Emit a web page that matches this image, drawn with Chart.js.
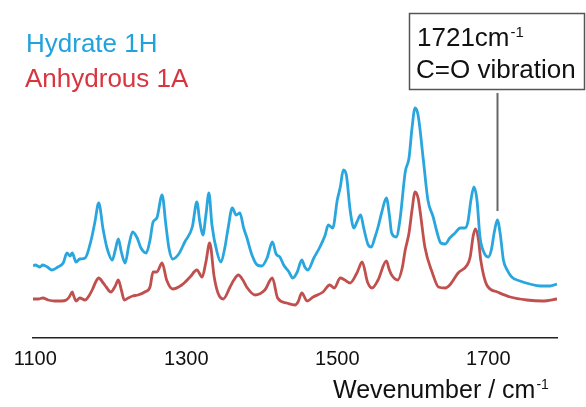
<!DOCTYPE html>
<html>
<head>
<meta charset="utf-8">
<script src="https://cdn.jsdelivr.net/npm/chart.js@4.4.1/dist/chart.umd.min.js"></script>
<style>
  html, body { margin: 0; padding: 0; background: #ffffff; }
  #wrap { position: relative; width: 586px; height: 407px; }
</style>
</head>
<body>
<div id="wrap"><canvas id="c" width="586" height="407"></canvas></div>
<script>
// ---- Data (wavenumber in cm-1, intensity in arbitrary units, offset traces) ----
const seriesNames = ['Hydrate 1H', 'Anhydrous 1A'];
const tickValues = [1100, 1300, 1500, 1700];
const axisTitle = 'Wevenumber / cm';
const annotationLines = ['1721cm', 'C=O vibration'];
const annotatedPeak = 1712;

const hydrateX = [1097,1100,1106,1110,1116,1122,1130,1137,1142,1146,1149,1154,1159,1166,1174,1179,1184,1190,1195,1202,1206,1210,1214,1219,1224,1229,1235,1240,1247,1252,1256,1261,1268,1273,1277,1282,1290,1298,1308,1314,1318,1322,1326,1330,1334,1341,1346,1351,1355,1361,1366,1371,1376,1380,1387,1394,1400,1407,1414,1419,1424,1429,1436,1441,1447,1453,1457,1461,1469,1477,1484,1488,1494,1500,1504,1508,1512,1517,1522,1526,1531,1535,1541,1545,1550,1554,1559,1565,1569,1572,1578,1583,1590,1595,1599,1603,1607,1614,1620,1627,1632,1637,1643,1649,1656,1663,1669,1673,1677,1681,1685,1689,1694,1700,1704,1708,1712,1716,1720,1725,1731,1742,1755,1769,1782,1791];
const hydrateY = [72,73,71,73,71,68,71,75,85,82,85,76,79,80,98,116,135,108,90,78,88,99,86,75,93,106,100,90,85,98,116,120,143,113,90,79,84,96,111,136,116,103,123,145,113,85,76,90,108,130,123,125,110,101,83,73,72,80,96,84,81,73,66,60,66,78,71,68,80,91,103,113,110,138,151,168,163,128,110,116,123,110,93,91,101,111,126,140,123,105,101,118,166,180,210,230,223,178,138,121,106,95,94,100,105,110,110,116,138,151,138,101,86,81,88,106,118,103,78,68,61,57,54,52,52,54];

const anhydrousX = [1097,1104,1110,1117,1126,1135,1141,1145,1149,1151,1154,1159,1166,1171,1176,1180,1184,1190,1194,1200,1206,1210,1214,1218,1223,1229,1236,1245,1252,1256,1261,1268,1274,1282,1294,1305,1314,1321,1326,1331,1337,1342,1349,1358,1363,1369,1375,1380,1391,1404,1414,1421,1433,1444,1448,1453,1460,1468,1481,1490,1496,1504,1510,1517,1526,1533,1540,1546,1554,1565,1569,1572,1580,1586,1590,1595,1599,1603,1607,1610,1616,1626,1634,1643,1649,1660,1672,1676,1680,1683,1687,1690,1698,1712,1729,1751,1772,1791];
const anhydrousY = [39,39,40,38,37,37,38,41,46,42,37,40,38,42,49,56,60,55,51,46,52,58,48,38,40,42,43,46,51,66,66,75,58,49,53,61,68,61,76,95,61,45,39,51,58,63,58,51,43,48,60,40,35,33,36,45,37,41,46,53,50,60,58,55,65,76,56,50,58,77,68,63,58,70,88,105,128,146,140,125,91,65,51,50,53,65,73,81,102,109,98,78,53,46,41,38,37,39];

const seriesColors = ['#2aa6de', '#c0504d'];
const legendColors = ['#22a2dd', '#d8353f'];

const toPoints = (xs, ys) => xs.map((x, i) => ({ x: x, y: ys[i] }));

const FONT = '"Liberation Sans", Arial, "Helvetica Neue", sans-serif';

const overlayPlugin = {
  id: 'overlay',
  afterDraw(chart) {
    const ctx = chart.ctx;
    const xs = chart.scales.x;
    const ys = chart.scales.y;
    ctx.save();
    ctx.textBaseline = 'alphabetic';
    ctx.textAlign = 'left';

    // Legend (coloured text only)
    ctx.font = '26px ' + FONT;
    ctx.fillStyle = legendColors[0];
    ctx.fillText(seriesNames[0], 26, 52);
    ctx.fillStyle = legendColors[1];
    ctx.fillText(seriesNames[1], 25, 87);

    // Annotation box
    ctx.strokeStyle = '#555555';
    ctx.lineWidth = 1.5;
    ctx.strokeRect(409.5, 13.5, 175, 76);
    ctx.fillStyle = '#111111';
    ctx.font = '26px ' + FONT;
    ctx.fillText(annotationLines[0], 417, 46);
    let w = ctx.measureText(annotationLines[0]).width;
    ctx.font = '15px ' + FONT;
    ctx.fillText('-1', 417 + w + 1, 37);
    ctx.font = '26px ' + FONT;
    ctx.fillText(annotationLines[1], 416, 78);

    // Leader line to the peak
    const px = Math.round(xs.getPixelForValue(annotatedPeak)) + 0.5;
    const idx = hydrateX.indexOf(annotatedPeak);
    const py = ys.getPixelForValue(hydrateY[idx]);
    ctx.strokeStyle = '#666666';
    ctx.lineWidth = 2;
    ctx.beginPath();
    ctx.moveTo(px, 93);
    ctx.lineTo(px, py - 9);
    ctx.stroke();

    // Axis title with superscript
    ctx.fillStyle = '#111111';
    ctx.font = '25px ' + FONT;
    ctx.fillText(axisTitle, 333, 398);
    w = ctx.measureText(axisTitle).width;
    ctx.font = '14px ' + FONT;
    ctx.fillText('-1', 333 + w + 1, 389);
    ctx.restore();
  }
};

new Chart(document.getElementById('c'), {
  type: 'line',
  data: {
    datasets: [
      {
        label: seriesNames[0],
        data: toPoints(hydrateX, hydrateY),
        borderColor: seriesColors[0],
        borderWidth: 2.8,
        pointRadius: 0,
        cubicInterpolationMode: 'monotone',
        fill: false
      },
      {
        label: seriesNames[1],
        data: toPoints(anhydrousX, anhydrousY),
        borderColor: seriesColors[1],
        borderWidth: 2.8,
        pointRadius: 0,
        cubicInterpolationMode: 'monotone',
        fill: false
      }
    ]
  },
  options: {
    responsive: false,
    animation: false,
    devicePixelRatio: 1,
    layout: { padding: { left: 33, right: 29, top: 0, bottom: 0 } },
    plugins: {
      legend: { display: false },
      tooltip: { enabled: false }
    },
    scales: {
      x: {
        type: 'linear',
        min: 1097,
        max: 1791,
        afterBuildTicks(scale) {
          scale.ticks = tickValues.map(v => ({ value: v }));
        },
        afterFit(scale) { scale.height = 69; },
        grid: { display: false, drawTicks: false },
        border: { display: true, color: '#222222', width: 1.5 },
        ticks: {
          padding: 9,
          color: '#111111',
          font: { family: FONT, size: 20 },
          maxRotation: 0,
          autoSkip: false,
          callback: (v) => String(v)
        }
      },
      y: {
        display: false,
        min: 0,
        max: 338
      }
    }
  },
  plugins: [overlayPlugin]
});
</script>
</body>
</html>
